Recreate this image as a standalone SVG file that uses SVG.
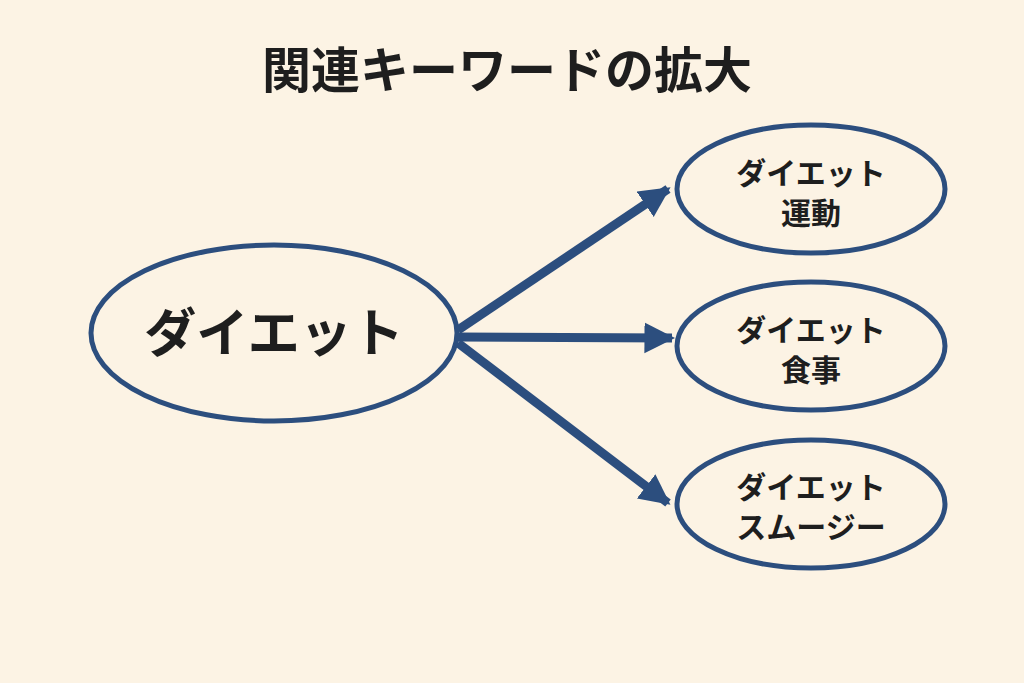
<svg xmlns="http://www.w3.org/2000/svg" width="1024" height="683" viewBox="0 0 1024 683">
<style>
.t{font-family:"Noto Sans CJK JP","Noto Sans CJK SC",sans-serif;font-weight:700;fill:#1e1e1e;text-anchor:middle}
.s{font-size:30px}
.n{fill:none;stroke:#2c4e7e;stroke-width:5}
.c{stroke:#2c4e7e;stroke-width:9;fill:none}
</style>
<defs>
<marker id="ah" viewBox="0 0 10 10" refX="9" refY="5" markerWidth="3.4" markerHeight="3.6" orient="auto" markerUnits="strokeWidth">
<path d="M0,0 L10,5 L0,10 z" fill="#2c4e7e"/>
</marker>
</defs>
<rect width="1024" height="683" fill="#fcf3e4"/>
<text class="t" x="507" y="88" font-size="49">関連キーワードの拡大</text>
<g id="connectors">
<line class="c" x1="458" y1="330" x2="668" y2="189" marker-end="url(#ah)"/>
<line class="c" x1="458" y1="337" x2="672" y2="338" marker-end="url(#ah)"/>
<line class="c" x1="458" y1="343" x2="668" y2="503" marker-end="url(#ah)"/>
</g>
<g id="main">
<ellipse class="n" cx="274" cy="333" rx="183" ry="88"/>
<text class="t" x="274" y="352" font-size="52">ダイエット</text>
</g>
<g id="n1">
<ellipse class="n" cx="811" cy="189" rx="134" ry="64"/>
<text class="t s" x="811" y="184">ダイエット</text>
<text class="t s" x="811" y="224">運動</text>
</g>
<g id="n2">
<ellipse class="n" cx="811" cy="346" rx="134" ry="64"/>
<text class="t s" x="811" y="341">ダイエット</text>
<text class="t s" x="811" y="381">食事</text>
</g>
<g id="n3">
<ellipse class="n" cx="811" cy="504" rx="134" ry="64"/>
<text class="t s" x="811" y="498">ダイエット</text>
<text class="t s" x="811" y="538">スムージー</text>
</g>
</svg>
